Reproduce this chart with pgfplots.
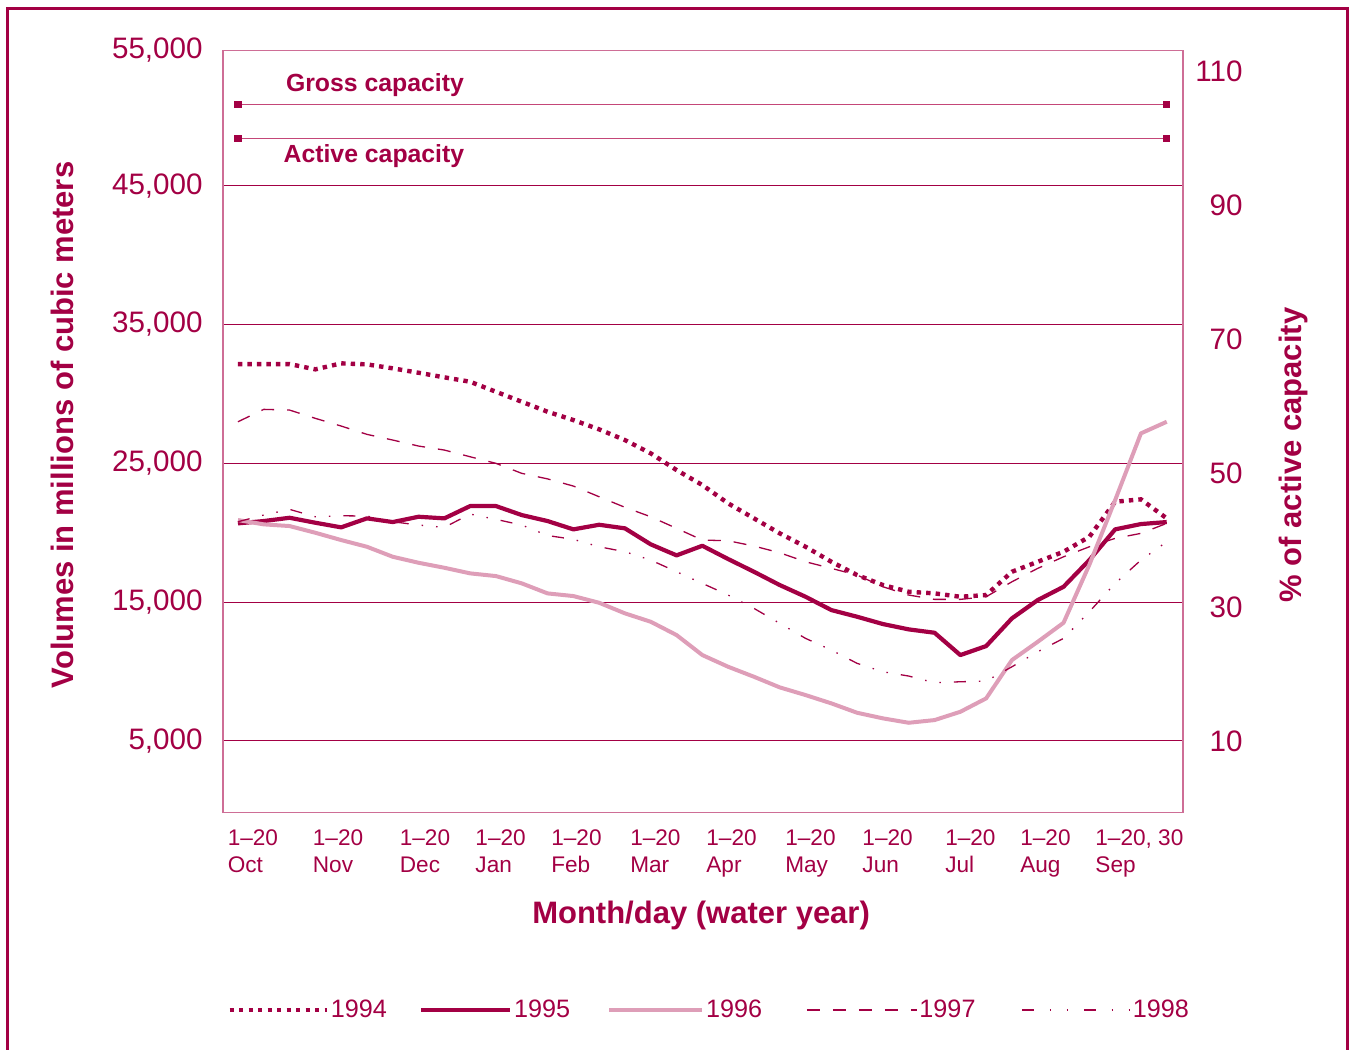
\documentclass[border=0pt]{standalone}
\usepackage{pgfplots}
\pgfplotsset{compat=1.18}
\usepackage{fontspec}
\setmainfont{Liberation Sans}
\definecolor{crim}{RGB}{163,0,68}
\definecolor{pinkl}{RGB}{222,158,184}
\definecolor{framec}{RGB}{206,110,150}
\definecolor{capl}{RGB}{196,70,120}
\pgfplotsset{
  legA/.style={legend image code/.code={\path (-2pt,0pt); \draw[##1] (0pt,0pt) -- (48.5pt,0pt);}},
  legB/.style={legend image code/.code={\path (-15pt,0pt); \draw[##1] (0pt,0pt) -- (44.5pt,0pt);}},
  legC/.style={legend image code/.code={\path (-17.5pt,0pt); \draw[##1] (0pt,0pt) -- (46.5pt,0pt);}},
  legD/.style={legend image code/.code={\path (-21pt,0pt); \draw[##1] (0pt,0pt) -- (55pt,0pt);}},
  legE/.style={legend image code/.code={\path (-22pt,0pt); \draw[##1, dash pattern=on 6pt off 7.8pt on 0.75pt off 7.8pt on 0.75pt off 7.8pt] (0pt,0pt) -- (54pt,0pt);}},
}
\begin{document}
\begin{tikzpicture}
\path[use as bounding box] (-111.5pt,-118.65pt) rectangle (564pt,406.35pt);
\draw[crim, line width=1.5pt] (-107.75pt,-130pt) -- (-107.75pt,402.1pt) -- (562.25pt,402.1pt) -- (562.25pt,-130pt);
\begin{axis}[
  name=ax1,
  at={(0,0)}, anchor=south west,
  width=480pt, height=381pt, scale only axis,
  xmin=-0.58, xmax=36.63, ymin=-170, ymax=54730,
  scaled y ticks=false, scaled x ticks=false,
  axis line style={framec, line width=0.6pt},
  ytick={5000,15000,25000,35000,45000},
  yticklabels={{5,000},{15,000},{25,000},{35,000},{45,000}},
  ymajorgrids, grid style={crim, line width=0.5pt},
  ytick pos=left, xtick pos=bottom,
  major tick length=0pt,
  yticklabel style={font=\fontsize{14.8}{16}\selectfont, text=crim, anchor=east, inner sep=0pt, xshift=-10pt},
  xtick={-0.41,2.89,6.26,9.19,12.13,15.19,18.14,21.2,24.19,27.4,30.31,33.22},
  xticklabels={{1--20\\Oct},{1--20\\Nov},{1--20\\Dec},{1--20\\Jan},{1--20\\Feb},{1--20\\Mar},{1--20\\Apr},{1--20\\May},{1--20\\Jun},{1--20\\Jul},{1--20\\Aug},{1--20, 30\\Sep}},
  xticklabel style={font=\fontsize{11.3}{13.35}\selectfont, text=crim, anchor=north west, align=left, inner sep=0pt, yshift=-8.5pt},
  xlabel={Month/day (water year)},
  xlabel style={font=\bfseries\fontsize{15.5}{18}\selectfont, text=crim, at={(axis description cs:0.498,-0.1343)}, anchor=center},
  ylabel={Volumes in millions of cubic meters},
  ylabel style={font=\bfseries\fontsize{15.5}{18}\selectfont, text=crim, at={(axis description cs:-0.1677,0.5088)}, anchor=center},
  legend style={draw=none, fill=none, inner sep=0pt, at={(axis description cs:0.0,-0.259)}, anchor=west,
    font=\fontsize{12.6}{14}\selectfont, text=crim,
    nodes={inner sep=1pt},
    /tikz/every odd column/.append style={column sep=0pt},
    /tikz/every even column/.append style={column sep=0pt}},
  legend columns=5,
  legend cell align=left,
]
\addplot[crim, line width=2.2pt, dash pattern=on 2.2pt off 2.55pt, legA] coordinates {
(0,32153) (1,32153) (2,32153) (3,31771) (4,32203) (5,32130) (6,31844) (7,31527) (8,31195) (9,30878)
(10,30157) (11,29437) (12,28717) (13,28119) (14,27448) (15,26677) (16,25719) (17,24516) (18,23436) (19,22117)
(20,21036) (21,19956) (22,18990) (23,17909) (24,16951) (25,16231) (26,15747) (27,15632) (28,15388) (29,15510)
(30,17189) (31,17909) (32,18630) (33,19711) (34,22233) (35,22406) (36,21036)};
\addlegendentry{1994}
\addplot[crim, line width=2.1pt, line join=round, legB] coordinates {
(0,20676) (1,20842) (2,21079) (3,20720) (4,20388) (5,21036) (6,20770) (7,21152) (8,21036) (9,21922)
(10,21922) (11,21274) (12,20842) (13,20243) (14,20575) (15,20316) (16,19163) (17,18370) (18,19062) (19,18104)
(20,17189) (21,16231) (22,15388) (23,14429) (24,13947) (25,13421) (26,13037) (27,12795) (28,11186) (29,11835)
(30,13831) (31,15150) (32,16108) (33,18031) (34,20243) (35,20626) (36,20770)};
\addlegendentry{1995}
\addplot[pinkl, line width=2pt, line join=round, legC] coordinates {
(0,20914) (1,20604) (2,20482) (3,19998) (4,19473) (5,18990) (6,18269) (7,17837) (8,17477) (9,17073)
(10,16878) (11,16353) (12,15630) (13,15438) (14,14955) (15,14191) (16,13586) (17,12628) (18,11186) (19,10344)
(20,9624) (21,8859) (22,8305) (23,7706) (24,7029) (25,6626) (26,6309) (27,6503) (28,7101) (29,8066)
(30,10826) (31,12145) (32,13514) (33,17693) (34,22354) (35,27160) (36,27996)};
\addlegendentry{1996}
\addplot[crim, line width=0.65pt, dash pattern=on 6.5pt off 6.5pt, legD] coordinates {
(0,27996) (1,28889) (2,28839) (3,28241) (4,27687) (5,27088) (6,26678) (7,26246) (8,25957) (9,25474)
(10,25000) (11,24279) (12,23880) (13,23363) (14,22593) (15,21830) (16,21152) (17,20316) (18,19473) (19,19423)
(20,19041) (21,18558) (22,17909) (23,17434) (24,16951) (25,16108) (26,15510) (27,15200) (28,15200) (29,15388)
(30,16468) (31,17434) (32,18269) (33,18990) (34,19595) (35,19956) (36,20676)};
\addlegendentry{1997}
\addplot[crim, line width=0.65pt, dash pattern=on 6pt off 6.5pt on 0.75pt off 6.5pt on 0.75pt off 6.5pt, legE] coordinates {
(0,20792) (1,21274) (2,21684) (3,21152) (4,21224) (5,21202) (6,20792) (7,20555) (8,20388) (9,21346)
(10,20965) (11,20555) (12,19800) (13,19524) (14,18990) (15,18630) (16,18031) (17,17189) (18,16353) (19,15510)
(20,14552) (21,13471) (22,12390) (23,11547) (24,10589) (25,9984) (26,9674) (27,9192) (28,9264) (29,9314)
(30,10344) (31,11425) (32,12390) (33,14307) (34,16353) (35,18031) (36,19351)};
\addlegendentry{1998}
\addplot[capl, line width=0.6pt, mark=square*, mark size=1.5pt, mark options={crim, solid}, forget plot] coordinates {(0,50836) (36,50836)};
\addplot[capl, line width=0.6pt, mark=square*, mark size=1.5pt, mark options={crim, solid}, forget plot] coordinates {(0,48415) (36,48415)};
\node[font=\bfseries\fontsize{12.4}{14}\selectfont, text=crim] at (axis cs:5.31,52255) {Gross capacity};
\node[font=\bfseries\fontsize{12.4}{14}\selectfont, text=crim] at (axis cs:5.27,47140) {Active capacity};
\end{axis}
\node[font=\fontsize{14.8}{16}\selectfont, text=crim, anchor=east, inner sep=0pt, xshift=-10pt, yshift=0.4pt] at (ax1.north west) {55,000};
\begin{axis}[
  at={(0,0)}, anchor=south west,
  width=480pt, height=381pt, scale only axis,
  xmin=-0.58, xmax=36.63, ymin=-0.7, ymax=113.15,
  axis x line=none, axis y line*=right,
  axis line style={draw=none},
  major tick length=0pt,
  ytick={10,30,50,70,90,110},
  yticklabels={10,30,50,70,90,110},
  yticklabel style={font=\fontsize{14.8}{16}\selectfont, text=crim, anchor=east, inner sep=0pt, xshift=30pt},
  ylabel={\% of active capacity},
  ylabel style={font=\bfseries\fontsize{15.5}{18}\selectfont, text=crim, at={(axis description cs:1.1146,0.4694)}, anchor=center},
]
\addplot[draw=none] coordinates {(0,50)};
\end{axis}
\end{tikzpicture}
\end{document}
